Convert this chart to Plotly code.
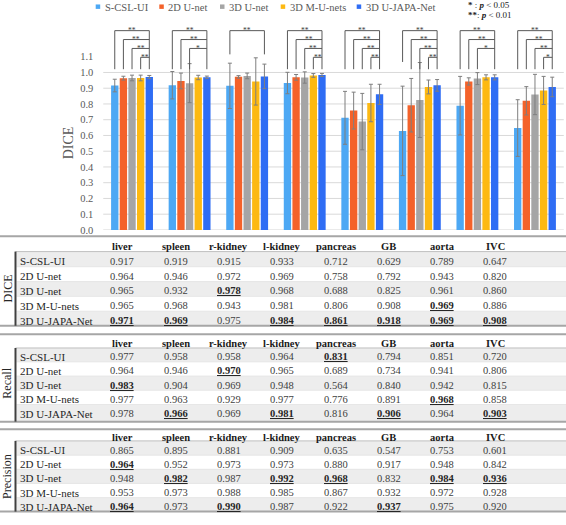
import plotly.graph_objects as go

# ---------------- data ----------------
organs = ["liver", "spleen", "r-kidney", "l-kidney", "pancreas", "GB", "aorta", "IVC"]
methods = ["S-CSL-UI", "2D U-net", "3D U-net", "3D M-U-nets", "3D U-JAPA-Net"]

dice_scsl = [0.917, 0.919, 0.915, 0.933, 0.712, 0.629, 0.789, 0.647]
dice_2d = [0.964, 0.946, 0.972, 0.969, 0.758, 0.792, 0.943, 0.820]
dice_3d = [0.965, 0.932, 0.978, 0.968, 0.688, 0.825, 0.961, 0.860]
dice_mu = [0.965, 0.968, 0.943, 0.981, 0.806, 0.908, 0.969, 0.886]
dice_japa = [0.971, 0.969, 0.975, 0.984, 0.861, 0.918, 0.969, 0.908]

sd_scsl = [0.040, 0.087, 0.144, 0.068, 0.168, 0.284, 0.186, 0.180]
sd_2d = [0.012, 0.050, 0.008, 0.018, 0.117, 0.170, 0.023, 0.090]
sd_3d = [0.018, 0.124, 0.018, 0.036, 0.179, 0.238, 0.038, 0.128]
sd_mu = [0.018, 0.014, 0.150, 0.012, 0.119, 0.044, 0.016, 0.089]
sd_japa = [0.010, 0.008, 0.078, 0.010, 0.064, 0.037, 0.016, 0.062]

recall_scsl = [0.977, 0.958, 0.958, 0.964, 0.831, 0.794, 0.851, 0.720]
recall_2d = [0.964, 0.946, 0.970, 0.965, 0.689, 0.734, 0.941, 0.806]
recall_3d = [0.983, 0.904, 0.969, 0.948, 0.564, 0.840, 0.942, 0.815]
recall_mu = [0.977, 0.963, 0.929, 0.977, 0.776, 0.891, 0.968, 0.858]
recall_japa = [0.978, 0.966, 0.969, 0.981, 0.816, 0.906, 0.964, 0.903]

prec_scsl = [0.865, 0.895, 0.881, 0.909, 0.635, 0.547, 0.753, 0.601]
prec_2d = [0.964, 0.952, 0.973, 0.973, 0.880, 0.917, 0.948, 0.842]
prec_3d = [0.948, 0.982, 0.987, 0.992, 0.968, 0.832, 0.984, 0.936]
prec_mu = [0.953, 0.973, 0.988, 0.985, 0.867, 0.932, 0.972, 0.928]
prec_japa = [0.964, 0.973, 0.990, 0.987, 0.922, 0.937, 0.975, 0.920]

# significance of each method vs 3D U-JAPA-Net (order: S-CSL-UI, 2D, 3D, M-U)
sig = [
    ["**", "**", "**", "**"],
    ["**", "**", "*", ""],
    ["**", "", "", ""],
    ["**", "**", "**", "**"],
    ["**", "**", "**", "**"],
    ["**", "**", "**", "**"],
    ["**", "**", "*", ""],
    ["**", "**", "**", "*"],
]

y_ticks = [0.0, 0.1, 0.2, 0.3, 0.4, 0.5, 0.6, 0.7, 0.8, 0.9, 1.0, 1.1]

dice = [dice_scsl, dice_2d, dice_3d, dice_mu, dice_japa]
dice_sd = [sd_scsl, sd_2d, sd_3d, sd_mu, sd_japa]
recall = [recall_scsl, recall_2d, recall_3d, recall_mu, recall_japa]
precision = [prec_scsl, prec_2d, prec_3d, prec_mu, prec_japa]

# ---------------- style ----------------
W, H = 566, 525
SERIF = "Liberation Serif"
colors = ["#4DA8F4", "#F4622A", "#A5A5A5", "#FDB912", "#2F6DF4"]
GRAY = "#595959"


def X(px):
    return px / W


def Y(py):
    return 1 - py / H


plot_left, plot_right = 103.25, 563.75
plot_top, plot_bottom = 20.7, 232.6
px_per_unit = 159.3
y_max = (plot_bottom - plot_top) / px_per_unit

fig = go.Figure()
for k, m in enumerate(methods):
    fig.add_trace(go.Bar(
        x=list(range(len(organs))), y=dice[k], name=m,
        marker=dict(color=colors[k], line=dict(width=0)),
        error_y=dict(type="data", array=dice_sd[k], color="#7F7F7F",
                     thickness=1, width=2),
        showlegend=False,
        customdata=organs,
        hovertemplate="%{customdata}<br>" + m + ": %{y:.3f}<extra></extra>",
    ))

shapes = []
annotations = []

# gridlines
for v in y_ticks:
    if v <= 1.0 + 1e-9:
        shapes.append(dict(type="line", xref="x domain", yref="y", x0=0, x1=1,
                           y0=v, y1=v, line=dict(color="#D9D9D9", width=1),
                           layer="below"))

# y-axis title
annotations.append(dict(x=X(68), y=Y(145), xref="paper", yref="paper", text="DICE",
                        textangle=-90, showarrow=False, xanchor="center", yanchor="middle",
                        font=dict(family=SERIF, size=14, color=GRAY)))

# significance brackets
slot = 0.75 / len(methods)
top_level = (plot_bottom - 31) / px_per_unit
level_step = 9 / px_per_unit
leg_default = (plot_bottom - 70) / px_per_unit
leg_override = {(2, 0): (plot_bottom - 55) / px_per_unit,
                (5, 0): (plot_bottom - 62.7) / px_per_unit}
right_override = {2: (plot_bottom - 55) / px_per_unit}
for i, g in enumerate(sig):
    xr = i + 2 * slot
    ks = [k for k, s in enumerate(g) if s]
    if not ks:
        continue
    for k in ks:
        yl = top_level - k * level_step
        xl = i + (k - 2) * slot
        lb = leg_override.get((i, k), leg_default)
        shapes.append(dict(type="path", xref="x", yref="y",
                           path=f"M {xl},{lb} L {xl},{yl} L {xr},{yl}",
                           line=dict(color=GRAY, width=1)))
        annotations.append(dict(x=(xl + xr) / 2, y=yl, xref="x", yref="y",
                                text=g[k], showarrow=False, yanchor="middle",
                                font=dict(family=SERIF, size=7.5, color="#404040")))
    rb = right_override.get(i, leg_default)
    shapes.append(dict(type="line", xref="x", yref="y", x0=xr, x1=xr,
                       y0=top_level, y1=rb, line=dict(color=GRAY, width=1)))

# legend (top)
leg_sq = [95.7, 159.3, 220.0, 280.7, 356.7]
for k, m in enumerate(methods):
    x0 = leg_sq[k]
    shapes.append(dict(type="rect", xref="paper", yref="paper",
                       x0=X(x0), x1=X(x0 + 4.5), y0=Y(4.5), y1=Y(9.0),
                       fillcolor=colors[k], line=dict(width=0)))
    annotations.append(dict(x=X(x0 + 7), y=Y(7.5), xref="paper", yref="paper",
                            text=m, showarrow=False, xanchor="left", yanchor="middle",
                            font=dict(family=SERIF, size=10.5, color=GRAY)))
annotations.append(dict(x=X(466), y=Y(5.5), xref="paper", yref="paper",
                        text="<b>*</b> : <b><i>p</i></b> < 0.05", showarrow=False,
                        xanchor="left", yanchor="middle",
                        font=dict(family=SERIF, size=9, color="#222222")))
annotations.append(dict(x=X(466), y=Y(15), xref="paper", yref="paper",
                        text="<b>**</b>: <b><i>p</i></b> < 0.01", showarrow=False,
                        xanchor="left", yanchor="middle",
                        font=dict(family=SERIF, size=9, color="#222222")))

# ---------------- tables ----------------
tables = [
    dict(name="DICE", data=dice, top=239.0, header=247.7, sep=254.5, r0=262.3, step=15.0, bottom=329.5),
    dict(name="Recall", data=recall, top=338.0, header=345.7, sep=352.0, r0=358.8, step=14.4, bottom=426.5),
    dict(name="Precision", data=precision, top=434.3, header=440.7, sep=446.0, r0=453.3, step=14.3, bottom=517.5),
]
col0, col_step = 122.3, 53.3
label_x = 18.0
TSHIFT = 2.0  # text baseline correction (px, downward)
for t in tables:
    n_rows = len(methods)
    # shaded rows
    for r in range(n_rows):
        yc = t["r0"] + r * t["step"]
        y0, y1 = yc - t["step"] / 2, yc + t["step"] / 2
        if r == 0:
            y0 = t["sep"]
        if r == n_rows - 1:
            y1 = t["bottom"]
        if r % 2 == 0:
            shapes.append(dict(type="rect", xref="paper", yref="paper",
                               x0=X(16.5), x1=1, y0=Y(y0), y1=Y(y1),
                               fillcolor="#EDEDED", line=dict(width=0), layer="below"))
        if r > 0:
            shapes.append(dict(type="line", xref="paper", yref="paper",
                               x0=X(16.5), x1=1, y0=Y(y0), y1=Y(y0),
                               line=dict(color="#E2E2E2", width=0.8)))
    # lines
    shapes.append(dict(type="line", xref="paper", yref="paper", x0=0, x1=1,
                       y0=Y(t["top"]), y1=Y(t["top"]), line=dict(color="#A6A6A6", width=2)))
    shapes.append(dict(type="line", xref="paper", yref="paper", x0=X(15.5), x1=1,
                       y0=Y(t["sep"]), y1=Y(t["sep"]), line=dict(color="#BFBFBF", width=1)))
    shapes.append(dict(type="line", xref="paper", yref="paper", x0=0, x1=1,
                       y0=Y(t["bottom"]), y1=Y(t["bottom"]), line=dict(color="#A6A6A6", width=2)))
    shapes.append(dict(type="line", xref="paper", yref="paper", x0=X(15.5), x1=X(15.5),
                       y0=Y(t["sep"]), y1=Y(t["bottom"]), line=dict(color="#404040", width=2)))
    # headers
    for j, o in enumerate(organs):
        annotations.append(dict(x=X(col0 + j * col_step), y=Y(t["header"] + TSHIFT),
                                xref="paper", yref="paper", text=f"<b>{o}</b>",
                                showarrow=False, xanchor="center", yanchor="middle",
                                font=dict(family=SERIF, size=10.5, color="#1A1A1A")))
    # metric label
    mid = t["r0"] + (n_rows - 1) * t["step"] / 2
    annotations.append(dict(x=X(7.5), y=Y(mid), xref="paper", yref="paper",
                            text=t["name"], textangle=-90, showarrow=False,
                            xanchor="center", yanchor="middle",
                            font=dict(family=SERIF, size=12, color="#262626")))
    # rows
    for r, m in enumerate(methods):
        yc = t["r0"] + r * t["step"] + TSHIFT
        annotations.append(dict(x=X(label_x), y=Y(yc), xref="paper", yref="paper",
                                text=m, showarrow=False, xanchor="left", yanchor="middle",
                                font=dict(family=SERIF, size=11, color="#262626")))
        for j in range(len(organs)):
            v = t["data"][r][j]
            best = v == max(t["data"][q][j] for q in range(n_rows))
            txt = f"<b>{v:.3f}</b>" if best else f"{v:.3f}"
            f = dict(family=SERIF, size=10.5, color="#262626" if best else "#404040")
            if best:
                f["lineposition"] = "under"
            annotations.append(dict(x=X(col0 + j * col_step), y=Y(yc),
                                    xref="paper", yref="paper", text=txt,
                                    showarrow=False, xanchor="center", yanchor="middle",
                                    font=f))

fig.update_layout(
    width=W, height=H,
    margin=dict(l=0, r=0, t=0, b=0),
    paper_bgcolor="white", plot_bgcolor="white",
    barmode="group", bargap=0.25, bargroupgap=0.15,
    font=dict(family=SERIF, color=GRAY),
    xaxis=dict(domain=[X(plot_left), X(plot_right)], range=[-0.5, len(organs) - 0.5],
               showticklabels=False, showgrid=False, zeroline=False, showline=False,
               fixedrange=True),
    yaxis=dict(domain=[Y(plot_bottom), Y(plot_top)], range=[0, y_max],
               tickvals=y_ticks, ticktext=[f"{v:.1f}" for v in y_ticks],
               tickfont=dict(family=SERIF, size=10.5, color=GRAY),
               ticklabelstandoff=9,
               showgrid=False, zeroline=False, showline=False,
               fixedrange=True),
    shapes=shapes,
    annotations=annotations,
)

fig.write_html("out.html", config={"displayModeBar": False},
               post_script="document.body.style.margin='0';")
